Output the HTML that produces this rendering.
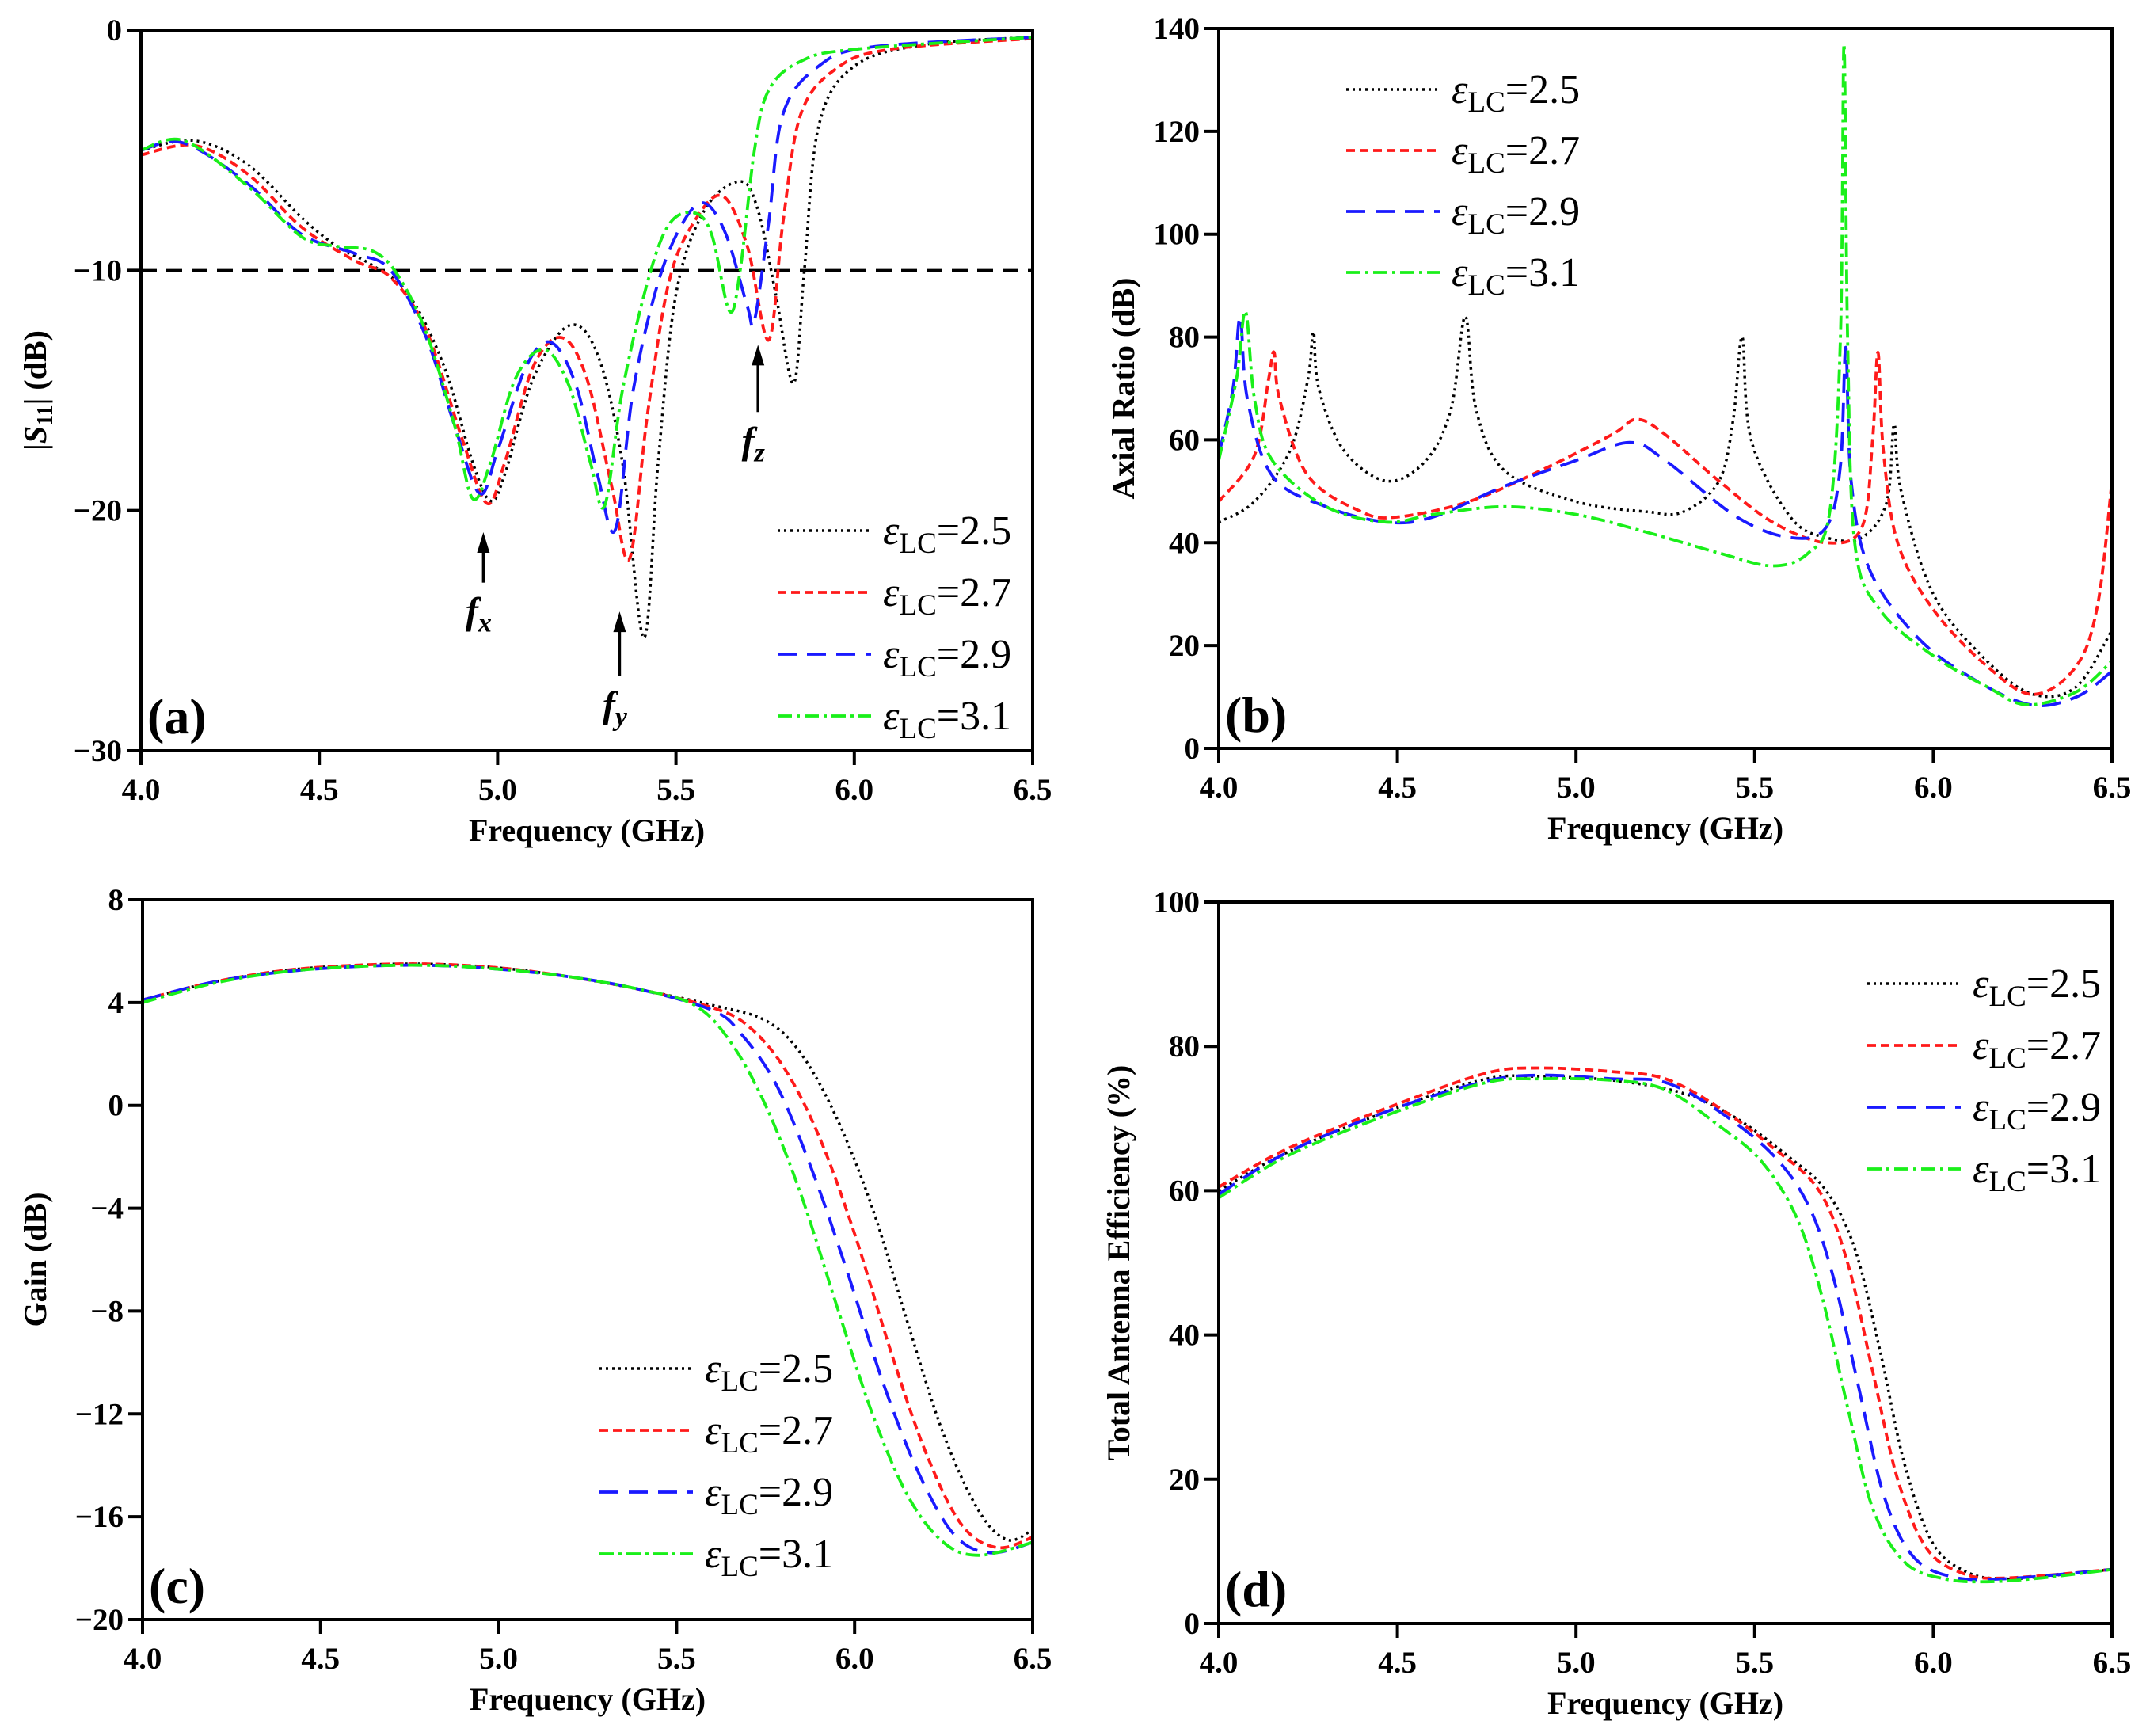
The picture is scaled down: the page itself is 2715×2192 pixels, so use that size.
<!DOCTYPE html>
<html><head><meta charset="utf-8"><style>
html,body{margin:0;padding:0;background:#fff}
svg{display:block}
text{font-family:"Liberation Serif",serif;font-weight:bold;fill:#000}
</style></head><body>
<svg id="fig" xmlns="http://www.w3.org/2000/svg" width="2715" height="2192" viewBox="0 0 2715 2192">
<rect width="2715" height="2192" fill="#fff"/>
</svg>
<script>
// ---------- data ----------
const legendLabels = ["2.5","2.7","2.9","3.1"];
const xTicks = [4.0,4.5,5.0,5.5,6.0,6.5];
const xTickLabels = ["4.0","4.5","5.0","5.5","6.0","6.5"];

// panel a : |S11|
const aTicks = [0,-10,-20,-30];
const aF0 = [4.0,4.15,4.3,4.45,4.55,4.65,4.75,4.85,4.93,4.98,5.02,5.1,5.2,5.28,5.35,5.41,5.45,5.5,5.58,5.68,5.73,5.78,5.83,5.86,5.9,6.0,6.2,6.5];
const aV0 = [-5.0,-4.6,-5.6,-7.8,-9.0,-9.8,-11.0,-14.0,-18.0,-19.6,-18.5,-14.5,-12.3,-13.5,-18,-25.3,-18,-11,-7.5,-6.3,-7.5,-11,-14.7,-10,-4,-1.5,-0.6,-0.3];
const aF1 = [4.0,4.15,4.3,4.45,4.6,4.7,4.8,4.9,4.97,5.02,5.1,5.18,5.25,5.32,5.37,5.42,5.48,5.55,5.63,5.7,5.76,5.8,5.85,5.95,6.1,6.5];
const aV1 = [-5.2,-4.8,-6.0,-8.2,-9.6,-10.3,-12.5,-17,-19.7,-18.0,-14,-12.8,-14.5,-19,-22,-16,-10.5,-8.0,-6.9,-9,-12.9,-8,-3.5,-1.6,-0.8,-0.35];
const aF2 = [4.0,4.12,4.3,4.45,4.6,4.7,4.8,4.88,4.95,5.0,5.08,5.15,5.22,5.28,5.33,5.38,5.45,5.52,5.58,5.64,5.7,5.72,5.76,5.8,5.9,6.05,6.5];
const aV2 = [-5.0,-4.7,-6.4,-8.5,-9.3,-10.0,-12.8,-16.5,-19.3,-17.5,-14,-13.0,-14.8,-18.5,-20.8,-15,-10.5,-8.0,-7.2,-8.5,-11.5,-12.1,-8,-3.5,-1.5,-0.7,-0.3];
const aF3 = [4.0,4.12,4.3,4.45,4.55,4.65,4.72,4.8,4.88,4.93,4.98,5.05,5.13,5.2,5.26,5.3,5.35,5.42,5.48,5.55,5.6,5.65,5.68,5.72,5.76,5.85,6.0,6.5];
const aV3 = [-5.0,-4.6,-6.5,-8.6,-9.0,-9.2,-10.2,-12.6,-16.5,-19.5,-18,-14.5,-13.3,-14.8,-18,-19.8,-15,-10.5,-8.1,-7.6,-8.5,-11.7,-10,-5,-2.5,-1.3,-0.8,-0.3];

// panel b : axial ratio
const bTicks = [0,20,40,60,80,100,120,140];
const bF0 = [4.0,4.1,4.2,4.25,4.265,4.28,4.35,4.47,4.58,4.65,4.69,4.72,4.8,5.0,5.2,5.3,5.4,5.44,5.465,5.49,5.6,5.7,5.8,5.87,5.89,5.91,6.0,6.15,6.28,6.4,6.5];
const bV0 = [44,48,58,72,81,70,58,52,56,66,84,66,54,48,46,46,52,64,80,60,45,41,41,48,63,50,30,17,10.5,12,23];
const bF1 = [4.0,4.1,4.14,4.155,4.17,4.25,4.4,4.5,4.7,4.9,5.1,5.17,5.25,5.4,5.55,5.7,5.8,5.83,5.845,5.86,5.9,6.0,6.15,6.28,6.4,6.46,6.5];
const bV1 = [48,57,72,77,68,53,46,45,48,54,61,64,61,52,44,40,43,60,77,58,40,27,16,10.5,16,28,52];
const bF2 = [4.0,4.04,4.06,4.08,4.15,4.3,4.47,4.6,4.8,5.0,5.15,5.25,5.45,5.6,5.7,5.74,5.755,5.77,5.82,5.95,6.1,6.27,6.4,6.5];
const bV2 = [57,70,84,68,53,47,44,45,51,56,59.5,56,45,41,43,55,78,52,35,22,14,8.5,10,15];
const bF3 = [4.0,4.05,4.075,4.1,4.15,4.3,4.47,4.6,4.8,5.0,5.2,5.4,5.55,5.65,5.71,5.74,5.75,5.76,5.78,5.85,6.0,6.15,6.26,6.4,6.5];
const bV3 = [56,72,85,68,56,47,44,45.5,47,45.5,42,38,35.5,38,46,80,137,80,40,27,18,12,8.5,11,17];

// panel c : gain
const cTicks = [8,4,0,-4,-8,-12,-16,-20];
const cF0 = [4.0,4.2,4.4,4.6,4.8,5.0,5.2,5.4,5.6,5.75,5.85,5.95,6.05,6.15,6.25,6.35,6.43,6.5];
const cV0 = [4.1,4.8,5.25,5.45,5.5,5.35,5.0,4.5,3.9,3.3,2.0,-0.5,-4,-8.5,-12.8,-15.8,-16.9,-16.5];
const cF1 = [4.0,4.2,4.4,4.6,4.8,5.0,5.2,5.4,5.6,5.7,5.8,5.9,6.0,6.1,6.2,6.3,6.4,6.5];
const cV1 = [4.1,4.8,5.25,5.45,5.5,5.35,5.0,4.5,3.8,3.1,1.5,-1.2,-5,-9.5,-13.5,-16.3,-17.2,-16.8];
const cF2 = [4.0,4.2,4.4,4.6,4.8,5.0,5.2,5.4,5.6,5.68,5.78,5.88,5.98,6.08,6.18,6.28,6.38,6.5];
const cV2 = [4.1,4.8,5.2,5.4,5.45,5.3,5.0,4.5,3.7,2.8,0.8,-2.5,-6.5,-10.8,-14.3,-16.7,-17.4,-17.0];
const cF3 = [4.0,4.2,4.4,4.6,4.8,5.0,5.2,5.4,5.55,5.65,5.75,5.85,5.95,6.05,6.15,6.25,6.35,6.5];
const cV3 = [4.0,4.75,5.2,5.4,5.45,5.3,5.0,4.5,3.9,2.5,0,-3.5,-7.8,-12,-15.2,-17,-17.5,-17.0];

// panel d : efficiency
const dTicks = [0,20,40,60,80,100];
const dF0 = [4.0,4.2,4.5,4.75,4.9,5.1,5.3,5.45,5.6,5.7,5.78,5.85,5.92,6.0,6.1,6.2,6.3,6.5];
const dV0 = [60,65.5,71.5,75.5,75.8,75.3,73.5,70,64.5,60,52,38,22,11,7,6.2,6.5,7.5];
const dF1 = [4.0,4.2,4.5,4.75,4.9,5.1,5.25,5.4,5.55,5.68,5.76,5.83,5.9,5.98,6.08,6.2,6.5];
const dV1 = [60.5,66,72,76.3,77,76.5,75.5,71.5,66,60,50,35,20,10.5,7,6.3,7.5];
const dF2 = [4.0,4.2,4.5,4.75,4.9,5.1,5.25,5.4,5.55,5.65,5.72,5.79,5.86,5.94,6.05,6.2,6.5];
const dV2 = [59.5,65.5,71.5,75.2,76,75.5,75,71,65,58,48,33,18,9.5,6.5,6.2,7.5];
const dF3 = [4.0,4.2,4.5,4.75,4.9,5.1,5.25,5.4,5.52,5.62,5.69,5.76,5.83,5.92,6.03,6.15,6.3,6.5];
const dV3 = [59,65,71,75,75.5,75.3,74,69,64,56,45,30,16,8.5,6.2,5.8,6.3,7.5];

// ---------- drawing ----------
const NS = "http://www.w3.org/2000/svg";
const svg = document.getElementById("fig");
const styles = [
  {c:"#000", d:"3 5", w:3.5},
  {c:"#ff1a1a", d:"11 6", w:3.8},
  {c:"#1a1aff", d:"24 13", w:3.8},
  {c:"#1aef1a", d:"18 6 4 6", w:3.8}
];
const seriesNames = ["series-eps-2-5","series-eps-2-7","series-eps-2-9","series-eps-3-1"];

function mk(tag, parent){ const e=document.createElementNS(NS,tag); parent.appendChild(e); return e; }

function smoothPath(pts){
  let d="M"+pts[0][0].toFixed(1)+","+pts[0][1].toFixed(1);
  for(let i=0;i<pts.length-1;i++){
    const p0=pts[Math.max(0,i-1)],p1=pts[i],p2=pts[i+1],p3=pts[Math.min(pts.length-1,i+2)];
    const t=1/6;
    let c1x=p1[0]+(p2[0]-p0[0])*t, c1y=p1[1]+(p2[1]-p0[1])*t;
    let c2x=p2[0]-(p3[0]-p1[0])*t, c2y=p2[1]-(p3[1]-p1[1])*t;
    c1x=Math.min(Math.max(c1x,p1[0]),p2[0]); c2x=Math.min(Math.max(c2x,p1[0]),p2[0]);
    d+=" C"+c1x.toFixed(1)+","+c1y.toFixed(1)+" "+c2x.toFixed(1)+","+c2y.toFixed(1)+" "+p2[0].toFixed(1)+","+p2[1].toFixed(1);
  }
  return d;
}

function panel(cfg){
  const g=mk("g",svg);
  
  
  const L=cfg.L,R=cfg.R,T=cfg.T,B=cfg.B;
  const sx=v=>L+(v-4.0)/(6.5-4.0)*(R-L);
  const sy=v=>B-(v-cfg.ymin)/(cfg.ymax-cfg.ymin)*(B-T);
  const clipId="clip-"+cfg.name;
  const cp=mk("clipPath",g); cp.setAttribute("id",clipId);
  const cr=mk("rect",cp); cr.setAttribute("x",L);cr.setAttribute("y",T-2);cr.setAttribute("width",R-L);cr.setAttribute("height",B-T+2);

  const sg=mk("g",g); sg.setAttribute("clip-path","url(#"+clipId+")");
  
  
  if(cfg.refLine!==undefined){
    const rl=mk("line",sg);
    
    
    rl.setAttribute("x1",L);rl.setAttribute("x2",R);rl.setAttribute("y1",sy(cfg.refLine));rl.setAttribute("y2",sy(cfg.refLine));
    rl.setAttribute("stroke","#000");rl.setAttribute("stroke-width",3.5);rl.setAttribute("stroke-dasharray","20 12");
  }
  for(let s=0;s<4;s++){
    const F=cfg.F[s],V=cfg.V[s];
    const pts=F.map((f,i)=>[sx(f),sy(V[i])]);
    const p=mk("path",sg);
    
    
    p.setAttribute("d",smoothPath(pts));
    p.setAttribute("fill","none");p.setAttribute("stroke",styles[s].c);
    p.setAttribute("stroke-width",styles[s].w);p.setAttribute("stroke-dasharray",styles[s].d);
  }

  const fr=mk("rect",g);
  
  
  fr.setAttribute("x",L);fr.setAttribute("y",T);fr.setAttribute("width",R-L);fr.setAttribute("height",B-T);
  fr.setAttribute("fill","none");fr.setAttribute("stroke","#000");fr.setAttribute("stroke-width",4);

  const yt=cfg.yTicks;
  for(let i=0;i<yt.length;i++){
    const y=sy(yt[i]);
    const tl=mk("line",g); tl.setAttribute("x1",L-18);tl.setAttribute("x2",L);tl.setAttribute("y1",y);tl.setAttribute("y2",y);
    tl.setAttribute("stroke","#000");tl.setAttribute("stroke-width",4);
    const tx=mk("text",g);
    
    
    tx.setAttribute("x",L-24);tx.setAttribute("y",y+13);tx.setAttribute("text-anchor","end");tx.setAttribute("font-size",39);
    tx.textContent=(yt[i]<0?"\u2212"+(-yt[i]):String(yt[i]));
  }
  for(let i=0;i<xTicks.length;i++){
    const x=sx(xTicks[i]);
    const tl=mk("line",g); tl.setAttribute("x1",x);tl.setAttribute("x2",x);tl.setAttribute("y1",B);tl.setAttribute("y2",B+18);
    tl.setAttribute("stroke","#000");tl.setAttribute("stroke-width",4);
    const tx=mk("text",g);
    
    
    tx.setAttribute("x",x);tx.setAttribute("y",B+62);tx.setAttribute("text-anchor","middle");tx.setAttribute("font-size",39);
    tx.textContent=xTickLabels[i];
  }
  const xt=mk("text",g);
  
  
  xt.setAttribute("x",(L+R)/2);xt.setAttribute("y",cfg.xtY);xt.setAttribute("text-anchor","middle");xt.setAttribute("font-size",40);
  xt.textContent="Frequency (GHz)";
  const ytt=mk("text",g);
  
  
  ytt.setAttribute("transform","translate("+cfg.ytX+","+((T+B)/2)+") rotate(-90)");
  ytt.setAttribute("text-anchor","middle");ytt.setAttribute("font-size",40);
  if(cfg.s11){
    ytt.innerHTML='|<tspan font-style="italic">S</tspan><tspan font-size="28" dy="8">11</tspan><tspan dy="-8">| (dB)</tspan>';
  } else ytt.textContent=cfg.ytitle;
  const pl=mk("text",g);
  
  
  pl.setAttribute("x",L+8);pl.setAttribute("y",cfg.plY);pl.setAttribute("font-size",64);
  pl.textContent=cfg.label;
  const lg=mk("g",g);
  
  
  for(let s=0;s<4;s++){
    const y=cfg.legY+s*cfg.legDy;
    const ll=mk("line",lg);
    
    
    ll.setAttribute("x1",cfg.legX);ll.setAttribute("x2",cfg.legX+118);ll.setAttribute("y1",y);ll.setAttribute("y2",y);
    ll.setAttribute("stroke",styles[s].c);ll.setAttribute("stroke-width",styles[s].w);ll.setAttribute("stroke-dasharray",styles[s].d);
    const lt=mk("text",lg);
    
    
    lt.setAttribute("x",cfg.legX+133);lt.setAttribute("y",y+17);lt.setAttribute("font-size",52);lt.setAttribute("font-weight","normal");
    lt.innerHTML='<tspan font-style="italic" font-weight="normal">\u03b5</tspan><tspan font-size="37" dy="11" font-weight="normal">LC</tspan><tspan dy="-11" font-weight="normal">='+legendLabels[s]+'</tspan>';
  }
  return {sx,sy,g};
}

const pa=panel({name:"panel-a-s11",L:178,R:1304,T:38,B:948,ymin:-30,ymax:0,yTicks:aTicks,
  F:[aF0,aF1,aF2,aF3],V:[aV0,aV1,aV2,aV3],refLine:-10,xtY:1062,ytX:58,s11:true,label:"(a)",plY:926,
  legX:982,legY:670,legDy:78});
const pb=panel({name:"panel-b-axial-ratio",L:1539,R:2667,T:36,B:945,ymin:0,ymax:140,yTicks:bTicks,
  F:[bF0,bF1,bF2,bF3],V:[bV0,bV1,bV2,bV3],xtY:1059,ytX:1432,ytitle:"Axial Ratio (dB)",label:"(b)",plY:924,
  legX:1700,legY:113,legDy:77});
const pc=panel({name:"panel-c-gain",L:180,R:1304,T:1136,B:2045,ymin:-20,ymax:8,yTicks:cTicks,
  F:[cF0,cF1,cF2,cF3],V:[cV0,cV1,cV2,cV3],xtY:2159,ytX:58,ytitle:"Gain (dB)",label:"(c)",plY:2024,
  legX:757,legY:1728,legDy:78});
const pd=panel({name:"panel-d-efficiency",L:1539,R:2667,T:1139,B:2050,ymin:0,ymax:100,yTicks:dTicks,
  F:[dF0,dF1,dF2,dF3],V:[dV0,dV1,dV2,dV3],xtY:2164,ytX:1426,ytitle:"Total Antenna Efficiency (%)",label:"(d)",plY:2028,
  legX:2358,legY:1242,legDy:78});

const arrowF = [4.96,5.342,5.73];
const arrowTop = [-20.9,-24.2,-13.1];
const arrowBot = [-23.0,-26.9,-15.9];
const arrowLab = ["x","y","z"];
for(let i=0;i<3;i++){
  const x=pa.sx(arrowF[i]), y1=pa.sy(arrowTop[i]), y2=pa.sy(arrowBot[i]);
  const ag=mk("g",pa.g);
  
  
  const ln=mk("line",ag); ln.setAttribute("x1",x);ln.setAttribute("x2",x);ln.setAttribute("y1",y1+12);ln.setAttribute("y2",y2);
  ln.setAttribute("stroke","#000");ln.setAttribute("stroke-width",3.5);
  const hd=mk("polygon",ag); hd.setAttribute("points",x+","+y1+" "+(x-8)+","+(y1+26)+" "+(x+8)+","+(y1+26)); hd.setAttribute("fill","#000");
  const t=mk("text",ag);
  
  
  t.setAttribute("x",x-6);t.setAttribute("y",y2+52);t.setAttribute("text-anchor","middle");t.setAttribute("font-size",48);t.setAttribute("font-style","italic");
  t.innerHTML='f<tspan font-size="34" dy="10">'+arrowLab[i]+'</tspan>';
}
</script>
</body></html>
